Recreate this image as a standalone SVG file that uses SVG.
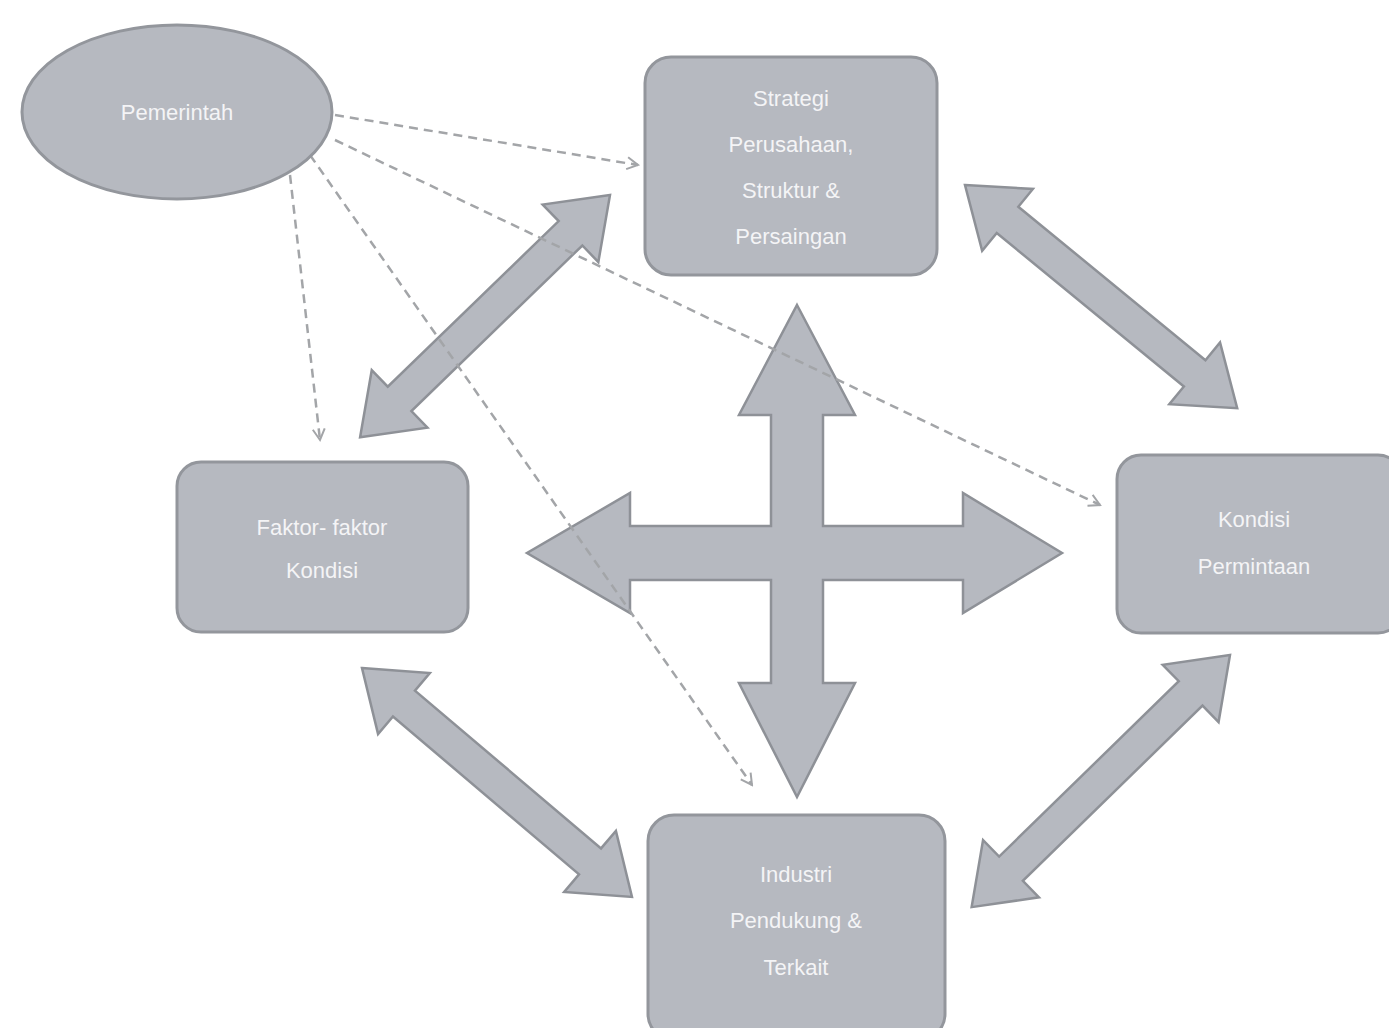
<svg xmlns="http://www.w3.org/2000/svg" width="1389" height="1028" viewBox="0 0 1389 1028">
  <style>
    .node { fill: #b6b9c0; stroke: #93969c; stroke-width: 3; }
    .blk { fill: #b6b9c0; stroke: #8e9197; stroke-width: 2.5; stroke-linejoin: miter; }
    .dash { fill: none; stroke: #a3a5a8; stroke-width: 2.5; stroke-dasharray: 9 6; }
    .lbl { font-family: "Liberation Sans", Arial, sans-serif; font-size: 22px; fill: #f4f4f6; text-anchor: middle; }
  </style>
  <defs>
    <marker id="open" viewBox="0 0 14 14" refX="12" refY="7" markerWidth="14" markerHeight="14" markerUnits="userSpaceOnUse" orient="auto">
      <path d="M1,1 L12,7 L1,13" fill="none" stroke="#a3a5a8" stroke-width="2"/>
    </marker>
  </defs>
  <rect width="1389" height="1028" fill="#ffffff"/>

  <g id="connectors">
    <path class="blk" transform="translate(610,195) rotate(135.9)" d="M0,0 L55,-40 L55,-17 L293,-17 L293,-40 L348,0 L293,40 L293,17 L55,17 L55,40 Z"/>
    <path class="blk" transform="translate(965,185) rotate(39.35)" d="M0,0 L55,-40 L55,-17 L297,-17 L297,-40 L352,0 L297,40 L297,17 L55,17 L55,40 Z"/>
    <path class="blk" transform="translate(362,668) rotate(40.3)" d="M0,0 L55,-40 L55,-17 L299,-17 L299,-40 L354,0 L299,40 L299,17 L55,17 L55,40 Z"/>
    <path class="blk" transform="translate(1230,655) rotate(135.7)" d="M0,0 L55,-40 L55,-17 L306,-17 L306,-40 L361,0 L306,40 L306,17 L55,17 L55,40 Z"/>
    <path class="blk" d="M797,305 L855,415 L823,415 L823,526 L963,526 L963,493 L1062,553 L963,613 L963,580 L823,580 L823,683 L855,683 L797,797 L739,683 L771,683 L771,580 L630,580 L630,613 L527,553 L630,493 L630,526 L771,526 L771,415 L739,415 Z"/>

    <line class="dash" x1="335" y1="115" x2="638" y2="165" marker-end="url(#open)"/>
    <line class="dash" x1="335" y1="140" x2="1100" y2="505" marker-end="url(#open)"/>
    <line class="dash" x1="310" y1="155" x2="752" y2="785" marker-end="url(#open)"/>
    <line class="dash" x1="290" y1="175" x2="320" y2="440" marker-end="url(#open)"/>
  </g>

  <g id="pemerintah">
    <ellipse class="node" cx="177" cy="112" rx="155" ry="87"/>
    <text class="lbl" x="177" y="120">Pemerintah</text>
  </g>

  <g id="strategi">
    <rect class="node" x="645" y="57" width="292" height="218" rx="26"/>
    <text class="lbl" x="791" y="106">Strategi</text>
    <text class="lbl" x="791" y="152">Perusahaan,</text>
    <text class="lbl" x="791" y="198">Struktur &amp;</text>
    <text class="lbl" x="791" y="244">Persaingan</text>
  </g>

  <g id="faktor">
    <rect class="node" x="177" y="462" width="291" height="170" rx="24"/>
    <text class="lbl" x="322" y="535">Faktor- faktor</text>
    <text class="lbl" x="322" y="578">Kondisi</text>
  </g>

  <g id="kondisi">
    <rect class="node" x="1117" y="455" width="285" height="178" rx="24"/>
    <text class="lbl" x="1254" y="527">Kondisi</text>
    <text class="lbl" x="1254" y="574">Permintaan</text>
  </g>

  <g id="industri">
    <rect class="node" x="648" y="815" width="297" height="225" rx="26"/>
    <text class="lbl" x="796" y="882">Industri</text>
    <text class="lbl" x="796" y="928">Pendukung &amp;</text>
    <text class="lbl" x="796" y="975">Terkait</text>
  </g>
</svg>
